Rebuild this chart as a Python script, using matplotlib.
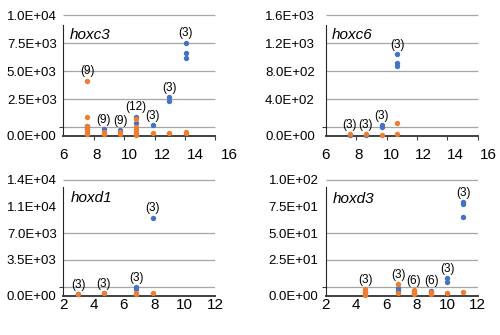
import matplotlib
matplotlib.use("Agg")
import matplotlib.pyplot as plt

plt.rcParams["font.family"] = ["Liberation Sans", "DejaVu Sans"]

# ---- hoxc3 ----
c3_x = [7.45, 8.45, 9.45, 10.4, 11.4, 12.4, 13.4]
c3_blue = [[893, 625], [600], [535], [1720, 1190], [955], [3455, 3150], [8330, 7385, 6940]]
c3_orange = [[4940, 1670, 850, 625, 400, 180], [385, 180], [357, 134],
             [1490, 830, 535, 268, 90], [240], [240], [385, 240]]
c3_n = ["(9)", "(9)", "(9)", "(12)", "(3)", "(3)", "(3)"]
c3_xticks = [6, 8, 10, 12, 14, 16]
c3_ylabels = ["0.0E+00", "2.5E+03", "5.0E+03", "7.5E+03", "1.0E+04"]
c3_ystep = 2500

# ---- hoxc6 ----
c6_x = [7.45, 8.45, 9.45, 10.4]
c6_blue = [[21], [21], [157, 133], [1172, 1047, 1000]]
c6_orange = [[24], [24], [14], [190, 24]]
c6_n = ["(3)", "(3)", "(3)", "(3)"]
c6_xticks = [6, 8, 10, 12, 14, 16]
c6_ylabels = ["0.0E+00", "4.0E+02", "8.0E+02", "1.2E+03", "1.6E+03"]
c6_ystep = 400

# ---- hoxd1 ----
d1_x = [3.0, 4.65, 6.8, 7.9]
d1_blue = [[300], [390], [1180, 960], [10305]]
d1_orange = [[300], [390], [470, 300], [470]]
d1_n = ["(3)", "(3)", "(3)", "(3)"]
d1_xticks = [2, 4, 6, 8, 10, 12]
d1_ylabels = ["0.0E+00", "3.5E+03", "7.0E+03", "1.1E+04", "1.4E+04"]
d1_ystep = 3500

# ---- hoxd3 ----
d3_x = [4.6, 6.75, 7.8, 8.95, 10.0, 11.05]
d3_blue = [[4.0], [7.5, 5.2], [3.0], [5.2, 4.0], [16.8, 13.7], [88.0, 86.1, 74.5]]
d3_orange = [[6.6, 5.0, 3.1, 1.2], [11.5, 2.8], [5.9, 4.5, 3.1, 1.7], [4.0, 2.2], [2.8], [4.3]]
d3_n = ["(3)", "(3)", "(6)", "(6)", "(3)", "(3)"]
d3_xticks = [2, 4, 6, 8, 10, 12]
d3_ylabels = ["0.0E+00", "2.5E+01", "5.0E+01", "7.5E+01", "1.0E+02"]
d3_ystep = 25

BLUE = "#4472C4"
ORANGE = "#ED7D31"
GRID = "#a6a6a6"

W, H = 500, 335
fig = plt.figure(figsize=(W / 100, H / 100), dpi=100)


def panel(name, xs, blue, orange, counts, xticks, ylabels, ystep, g):
    upp = ystep / g["gap"]
    ax = fig.add_axes([g["left"] / W, 1 - g["axis"] / H,
                       (g["right"] - g["left"]) / W, (g["axis"] - g["top"]) / H])
    x0, x1 = xticks[0], xticks[-1]
    ax.set_xlim(x0, x1)
    ax.set_ylim(0, (g["axis"] - g["top"]) * upp)
    ax.patch.set_alpha(0)

    xend = x0 + (g["gend"] - g["left"]) / (g["right"] - g["left"]) * (x1 - x0)
    g0 = (g["axis"] - g["gbot"]) * upp
    grids = [g0 + k * ystep for k in range(5)]
    drawn = [v for k, v in enumerate(grids) if k not in g["skip"]]
    ax.hlines(drawn, x0, xend, color=GRID, lw=0.9, zorder=0)

    for s in ("top", "right"):
        ax.spines[s].set_visible(False)
    ax.spines["left"].set_bounds(0, (g["axis"] - g["stop"]) * upp)
    ax.spines["left"].set_color("#262626")
    ax.spines["left"].set_linewidth(0.8)
    ax.spines["bottom"].set_bounds(x0, xend)
    ax.spines["bottom"].set_color("#404040")
    ax.spines["bottom"].set_linewidth(1.4)

    ax.set_xticks(xticks)
    ax.set_xticklabels([str(t) for t in xticks], fontsize=11)
    ax.set_xticks([x0 + k * (xend - x0) / 5 for k in range(6)], minor=True)
    ax.tick_params(axis="x", which="major", length=0, pad=g["xpad"])
    ax.tick_params(axis="x", which="minor", length=3, width=0.8, color="#404040")

    ax.set_yticks([upp * 1.0] + grids[1:])
    ax.set_yticklabels(ylabels, fontsize=9.5)
    ax.set_yticks(grids, minor=True)
    ax.tick_params(axis="y", which="major", length=0, pad=g["ypad"])
    ax.tick_params(axis="y", which="minor", length=3, width=0.8, color="#404040")

    for x, bv, ov, n in zip(xs, blue, orange, counts):
        ax.scatter([x] * len(bv), bv, s=15, color=BLUE, linewidths=0,
                   clip_on=False, zorder=3)
        ax.scatter([x] * len(ov), ov, s=15, color=ORANGE, linewidths=0,
                   clip_on=False, zorder=4)
        ax.annotate(n, (x, max(bv + ov)), xytext=(0, 6.8), textcoords="offset points",
                    ha="center", va="center", fontsize=8.5, zorder=5)

    fig.text(g["nx"] / W, 1 - g["ny"] / H, name, style="italic", fontsize=11,
             ha="left", va="center")
    return ax


top_geo = dict(axis=136, top=14, gbot=127, gap=28, stop=25, xpad=8.5, ny=35, skip=())
bot_geo = dict(axis=296.3, top=179, gbot=286.7, gap=26.7, stop=186.7, xpad=1.5, skip=(3,))

panel("hoxc3", c3_x, c3_blue, c3_orange, c3_n, c3_xticks, c3_ylabels, c3_ystep,
      dict(top_geo, left=63.3, right=229, gend=215.5, ypad=4.8, nx=70))
panel("hoxc6", c6_x, c6_blue, c6_orange, c6_n, c6_xticks, c6_ylabels, c6_ystep,
      dict(top_geo, left=326, right=488.3, gend=477.7, ypad=8, nx=331.5))
panel("hoxd1", d1_x, d1_blue, d1_orange, d1_n, d1_xticks, d1_ylabels, d1_ystep,
      dict(bot_geo, left=63.3, right=215, gend=215, ypad=4.8, nx=70.5, ny=197.7))
panel("hoxd3", d3_x, d3_blue, d3_orange, d3_n, d3_xticks, d3_ylabels, d3_ystep,
      dict(bot_geo, left=326, right=477.7, gend=477.7, ypad=5.5, nx=333, ny=199))

fig.savefig("out.png", dpi=100)
